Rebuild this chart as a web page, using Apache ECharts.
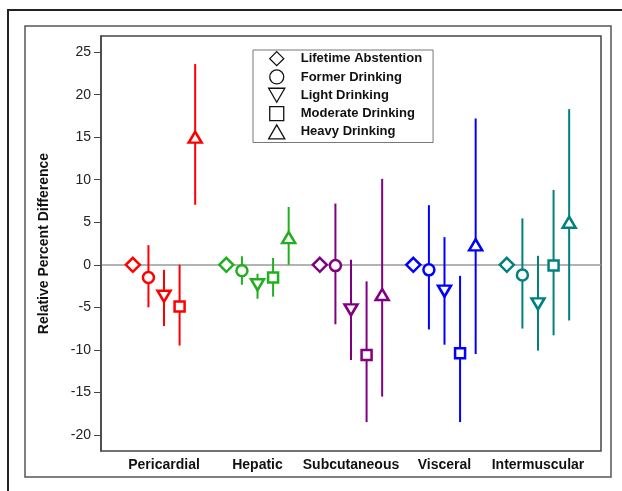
<!DOCTYPE html>
<html>
<head>
<meta charset="utf-8">
<script src="https://cdn.jsdelivr.net/npm/echarts@6/dist/echarts.min.js"></script>
<style>
html,body{margin:0;padding:0;background:#fff;}
#chart{width:622px;height:491px;}
</style>
</head>
<body>
<div id="chart"></div>
<script>
// ---- data ----
const categories = ['Pericardial', 'Hepatic', 'Subcutaneous', 'Visceral', 'Intermuscular'];
const levels = ['Lifetime Abstention', 'Former Drinking', 'Light Drinking', 'Moderate Drinking', 'Heavy Drinking'];
const yTicks = [-20, -15, -10, -5, 0, 5, 10, 15, 20, 25];

const lifetime    = [0, 0, 0, 0, 0];
const former      = [-1.5, -0.7, -0.1, -0.6, -1.2];
const formerLo    = [-5.0, -2.35, -7.0, -7.6, -7.5];
const formerHi    = [2.3, 1.0, 7.2, 7.0, 5.45];
const light       = [-3.7, -2.35, -5.3, -3.1, -4.6];
const lightLo     = [-7.2, -4.0, -11.2, -9.4, -10.1];
const lightHi     = [-0.6, -1.05, 0.6, 3.25, 1.05];
const moderate    = [-4.9, -1.5, -10.6, -10.4, -0.1];
const moderateLo  = [-9.5, -3.75, -18.5, -18.5, -8.3];
const moderateHi  = [0.0, 0.8, -1.95, -1.3, 8.8];
const heavy       = [15.0, 3.2, -3.5, 2.35, 5.0];
const heavyLo     = [7.05, 0.0, -15.5, -10.5, -6.55];
const heavyHi     = [23.6, 6.8, 10.1, 17.2, 18.3];

// ---- styling / layout ----
const catColors = ['#ff0000', '#1fb01f', '#800080', '#0000ff', '#008080'];
const levelOffsets = [-2 / 6, -1 / 6, 0, 1 / 6, 2 / 6];
const triDown = 'path://M0,0 L10,0 L5,8.66 Z';
const symbols = ['diamond', 'circle', triDown, 'rect', 'triangle'];
const symbolSizes = [[14, 14], 11, [13, 11], 10, [13, 11]];
const legendIcons = [
  'path://M5,0 L10,5 L5,10 L0,5 Z',
  'path://M10,5 A5,5 0 1,1 0,5 A5,5 0 1,1 10,5 Z',
  'path://M0,0 L10,0 L5,8.66 Z',
  'path://M0,0 L10,0 L10,10 L0,10 Z',
  'path://M5,0 L10,8.66 L0,8.66 Z'
];
const FONT = 'Liberation Sans, Arial, Helvetica, sans-serif';

const means = [lifetime, former, light, moderate, heavy];
const los = [null, formerLo, lightLo, moderateLo, heavyLo];
const his = [null, formerHi, lightHi, moderateHi, heavyHi];

const errData = [];
for (let l = 1; l < levels.length; l++) {
  for (let c = 0; c < categories.length; c++) {
    errData.push([c + levelOffsets[l], los[l][c], his[l][c], c]);
  }
}

const series = [{
  type: 'custom',
  name: 'err',
  z: 1,
  silent: true,
  data: errData,
  encode: { x: 0, y: [1, 2] },
  renderItem: function (params, api) {
    const x = api.value(0);
    const p1 = api.coord([x, api.value(1)]);
    const p2 = api.coord([x, api.value(2)]);
    return {
      type: 'line',
      shape: { x1: p1[0], y1: p1[1], x2: p2[0], y2: p2[1] },
      style: { stroke: catColors[api.value(3)], lineWidth: 2 }
    };
  },
  markLine: {
    silent: true,
    symbol: ['none', 'none'],
    label: { show: false },
    lineStyle: { color: '#9a9a9a', width: 1.5, type: 'solid' },
    data: [{ yAxis: 0 }],
    z: 0
  }
}];

levels.forEach(function (name, l) {
  series.push({
    type: 'scatter',
    name: name,
    z: 3,
    symbol: symbols[l],
    symbolSize: symbolSizes[l],
    itemStyle: { color: '#ffffff', borderColor: '#000000', borderWidth: 2.5, opacity: 1 },
    emphasis: { disabled: true },
    data: categories.map(function (cat, c) {
      return {
        value: [c + levelOffsets[l], means[l][c]],
        itemStyle: { color: '#ffffff', borderColor: catColors[c], borderWidth: 2.5 }
      };
    })
  });
});

const chart = echarts.init(document.getElementById('chart'), null, { renderer: 'canvas' });
chart.setOption({
  animation: false,
  backgroundColor: '#ffffff',
  graphic: [
    { type: 'rect', shape: { x: 8, y: 10, width: 700, height: 600 }, style: { fill: 'none', stroke: '#222', lineWidth: 2 }, silent: true },
    { type: 'rect', shape: { x: 25, y: 26, width: 586, height: 451 }, style: { fill: 'none', stroke: '#555', lineWidth: 1.5 }, silent: true }
  ],
  grid: {
    left: 101, top: 36, right: 21, bottom: 40,
    show: true, borderColor: '#444', borderWidth: 1.5, backgroundColor: 'transparent'
  },
  legend: {
    orient: 'vertical',
    left: 253, top: 50,
    padding: [1, 11, 3, 15],
    itemGap: 3,
    itemWidth: 38, itemHeight: 14,
    symbolKeepAspect: true,
    borderColor: '#777', borderWidth: 1,
    backgroundColor: '#fff',
    selectedMode: false,
    itemStyle: { color: '#ffffff', borderColor: '#111', borderWidth: 1.3 },
    textStyle: { fontFamily: FONT, fontWeight: 'bold', fontSize: 13, color: '#111', lineHeight: 14 },
    data: levels.map(function (n, l) { return { name: n, icon: legendIcons[l] }; })
  },
  xAxis: {
    type: 'value',
    min: -0.674, max: 4.674,
    splitLine: { show: false },
    axisLine: { show: false, onZero: false },
    axisTick: { show: false },
    axisLabel: {
      customValues: [0, 1, 2, 3, 4],
      formatter: function (v) { return categories[Math.round(v)]; },
      fontFamily: FONT, fontWeight: 'bold', fontSize: 14, color: '#111', margin: 7
    }
  },
  yAxis: {
    type: 'value',
    min: -21.9, max: 26.9,
    name: 'Relative Percent Difference',
    nameLocation: 'middle',
    nameGap: 50,
    nameTextStyle: { fontFamily: FONT, fontWeight: 'bold', fontSize: 14, color: '#111' },
    splitLine: { show: false },
    axisLine: { show: true, onZero: false, lineStyle: { color: '#444', width: 1.5 } },
    axisTick: { show: true, customValues: yTicks, length: 7, lineStyle: { color: '#444', width: 1 } },
    axisLabel: {
      customValues: yTicks,
      fontFamily: FONT, fontSize: 14, color: '#222', margin: 10
    }
  },
  series: series
});
</script>
</body>
</html>
